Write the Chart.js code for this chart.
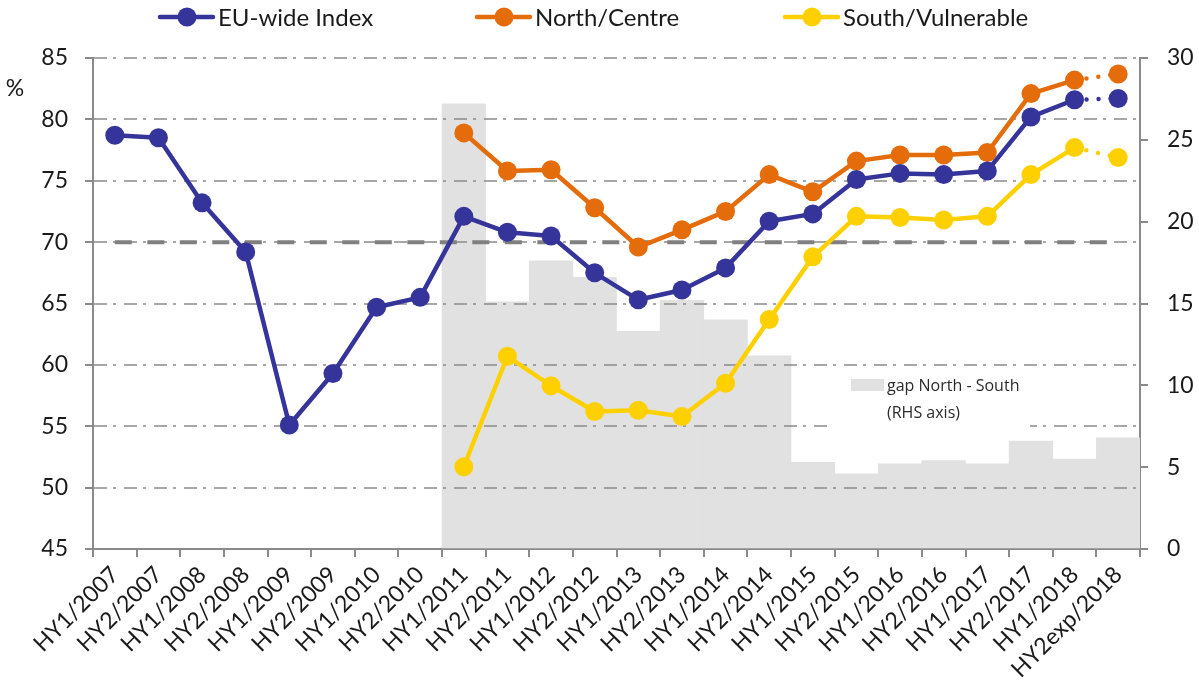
<!DOCTYPE html>
<html>
<head>
<meta charset="utf-8">
<script src="https://cdn.jsdelivr.net/npm/chart.js@4.4.1/dist/chart.umd.min.js"></script>
<style>
  html, body { margin: 0; background: #fff; }
</style>
</head>
<body>
<canvas id="chart" width="1199" height="686"></canvas>
<script>
// Data
const labels = ['HY1/2007', 'HY2/2007', 'HY1/2008', 'HY2/2008', 'HY1/2009', 'HY2/2009',
  'HY1/2010', 'HY2/2010', 'HY1/2011', 'HY2/2011', 'HY1/2012', 'HY2/2012', 'HY1/2013',
  'HY2/2013', 'HY1/2014', 'HY2/2014', 'HY1/2015', 'HY2/2015', 'HY1/2016', 'HY2/2016',
  'HY1/2017', 'HY2/2017', 'HY1/2018', 'HY2exp/2018'];

const euIndex = [78.7, 78.5, 73.2, 69.2, 55.1, 59.3, 64.7, 65.5, 72.1, 70.8, 70.5, 67.5,
  65.3, 66.1, 67.9, 71.7, 72.3, 75.1, 75.6, 75.5, 75.8, 80.2, 81.6, 81.7];

const northCentre = [null, null, null, null, null, null, null, null, 78.9, 75.8, 75.9, 72.8,
  69.6, 71.0, 72.5, 75.5, 74.1, 76.6, 77.1, 77.1, 77.3, 82.1, 83.2, 83.7];

const southVulnerable = [null, null, null, null, null, null, null, null, 51.7, 60.7, 58.3, 56.2,
  56.3, 55.8, 58.5, 63.7, 68.8, 72.1, 72.0, 71.8, 72.1, 75.5, 77.7, 76.9];

// gap North - South, right hand axis
const gapNorthSouth = [null, null, null, null, null, null, null, null, 27.2, 15.1, 17.6, 16.6,
  13.3, 15.2, 14.0, 11.8, 5.3, 4.6, 5.2, 5.4, 5.2, 6.6, 5.5, 6.8];

const benchmark = [70, 70, 70, 70, 70, 70, 70, 70, 70, 70, 70, 70,
  70, 70, 70, 70, 70, 70, 70, 70, 70, 70, 70, 70];

const leftRange = [45, 85];
const rightRange = [0, 30];
const tickStep = 5;

const FONT = 'Lato';
const AXIS_GREY = '#8a8a8a';
const lastIdx = labels.length - 1;

// last point (expected value) joined with a dotted segment
const dottedLast = {
  borderDash: ctx => ctx.p1DataIndex === lastIdx ? [0, 12] : undefined
};

function lineSet(label, data, color) {
  return {
    type: 'line', label, data, yAxisID: 'y',
    borderColor: color, backgroundColor: color,
    borderWidth: 4.5, borderCapStyle: 'round', borderJoinStyle: 'round',
    pointRadius: 9.5, pointHoverRadius: 9.5, pointBorderWidth: 0,
    pointBackgroundColor: color, tension: 0, order: 0,
    segment: dottedLast
  };
}

// gridlines + inner legend go between the bars and the lines
const underlay = {
  id: 'underlay',
  afterDatasetDraw(chart, args) {
    if (args.index !== 4) return;
    const { ctx, chartArea: a, scales: { y } } = chart;
    ctx.save();
    ctx.strokeStyle = '#8a8a8a';
    ctx.lineWidth = 1.6;
    ctx.setLineDash([13, 6, 3, 8]);
    for (let v = leftRange[0] + tickStep; v <= leftRange[1]; v += tickStep) {
      const py = Math.round(y.getPixelForValue(v));
      ctx.beginPath();
      ctx.moveTo(a.left + 1, py);
      ctx.lineTo(a.right - 1, py);
      ctx.stroke();
    }
    ctx.setLineDash([]);
    // "gap North - South" legend box
    ctx.fillStyle = '#fff';
    ctx.fillRect(827, 369, 203, 67);
    ctx.fillStyle = chart.data.datasets[4].backgroundColor;
    ctx.fillRect(851, 379, 33, 12);
    ctx.fillStyle = '#2a2a2a';
    ctx.font = '16px "Open Sans"';
    ctx.textBaseline = 'middle';
    ctx.fillText(chart.data.datasets[4].label, 887, 386);
    ctx.fillText('(RHS axis)', 887, 413);
    ctx.restore();
  }
};

// top legend with line + marker symbols, and the % unit
const topLegend = {
  id: 'topLegend',
  afterDraw(chart) {
    const ctx = chart.ctx;
    const xs = [158, 475, 783];
    const yc = 17;
    ctx.save();
    xs.forEach((x, i) => {
      const ds = chart.data.datasets[i];
      ctx.strokeStyle = ds.borderColor;
      ctx.lineWidth = 4.5;
      ctx.lineCap = 'round';
      ctx.beginPath();
      ctx.moveTo(x + 2, yc);
      ctx.lineTo(x + 55, yc);
      ctx.stroke();
      ctx.fillStyle = ds.borderColor;
      ctx.beginPath();
      ctx.arc(x + 29, yc, 9.5, 0, Math.PI * 2);
      ctx.fill();
      ctx.fillStyle = '#1a1a1a';
      ctx.font = '24px ' + FONT;
      ctx.textBaseline = 'middle';
      ctx.fillText(ds.label, x + 60, yc + 1);
    });
    ctx.font = '23px ' + FONT;
    ctx.textAlign = 'center';
    ctx.fillText('%', 15, 89);
    ctx.restore();
  }
};

new Chart(document.getElementById('chart'), {
  type: 'bar',
  data: {
    labels,
    datasets: [
      lineSet('EU-wide Index', euIndex, '#35349a'),
      lineSet('North/Centre', northCentre, '#e46c0a'),
      lineSet('South/Vulnerable', southVulnerable, '#ffd000'),
      {
        type: 'line', label: 'benchmark', data: benchmark, yAxisID: 'y',
        borderColor: '#808080', borderWidth: 4, borderDash: [17, 15.5],
        pointRadius: 0, order: 5
      },
      {
        type: 'bar', label: 'gap North - South', data: gapNorthSouth, yAxisID: 'y1',
        backgroundColor: '#e1e1e1', barPercentage: 1, categoryPercentage: 1, order: 10
      }
    ]
  },
  options: {
    responsive: false,
    animation: false,
    layout: { padding: { top: 58, left: 0, right: 0, bottom: 0 } },
    plugins: { legend: { display: false }, tooltip: { enabled: false } },
    scales: {
      x: {
        offset: true,
        grid: { offset: true, drawOnChartArea: false, tickLength: 8, color: AXIS_GREY, lineWidth: 2 },
        border: { color: AXIS_GREY, width: 2 },
        ticks: {
          autoSkip: false, maxRotation: 45, minRotation: 45, padding: 4,
          color: '#1a1a1a', font: { family: FONT, size: 23 }
        },
        afterFit: s => { s.height = 137; }
      },
      y: {
        position: 'left', min: leftRange[0], max: leftRange[1],
        grid: { drawOnChartArea: false, tickLength: 8, color: AXIS_GREY, lineWidth: 2 },
        border: { color: AXIS_GREY, width: 2 },
        ticks: { stepSize: tickStep, padding: 17, color: '#1a1a1a', font: { family: FONT, size: 23 } },
        afterFit: s => { s.width = 93; }
      },
      y1: {
        position: 'right', min: rightRange[0], max: rightRange[1],
        grid: { drawOnChartArea: false, tickLength: 8, color: AXIS_GREY, lineWidth: 2 },
        border: { color: AXIS_GREY, width: 2 },
        ticks: { stepSize: tickStep, padding: 19, color: '#1a1a1a', font: { family: FONT, size: 23 } },
        afterFit: s => { s.width = 59; }
      }
    }
  },
  plugins: [underlay, topLegend]
});
</script>
</body>
</html>
